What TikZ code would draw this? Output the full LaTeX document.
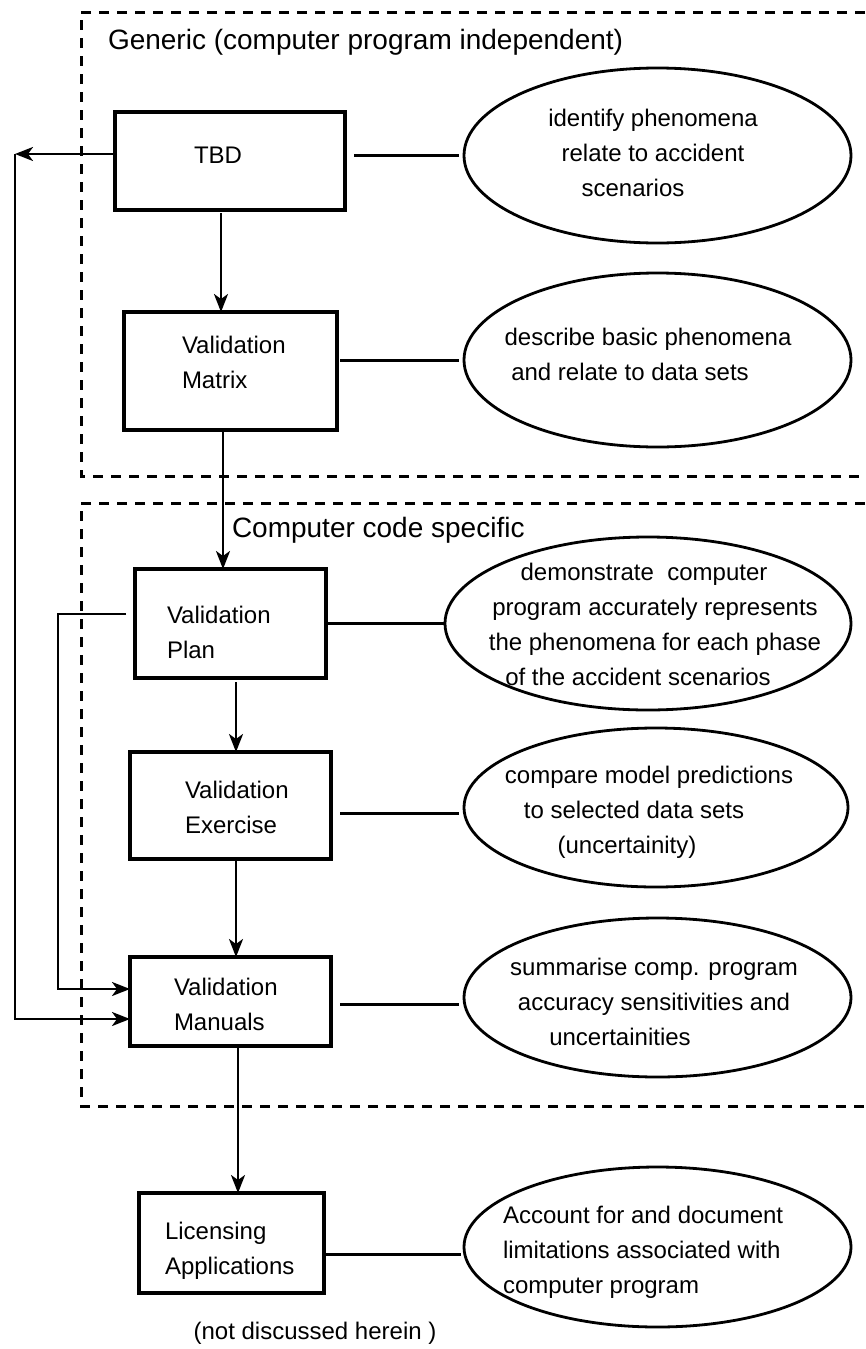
\documentclass[tikz,border=0pt]{standalone}
\usepackage{fontspec}
\setmainfont{Liberation Sans}
\usetikzlibrary{arrows.meta,shapes.geometric,calc}
\begin{document}
\begin{tikzpicture}[x=1pt,y=-1pt,
  every node/.style={inner sep=0pt, outer sep=0pt},
  txt/.style={font=\fontsize{24}{35}\selectfont},
  head/.style={font=\fontsize{28}{34}\selectfont, anchor=west},
  stepbox/.style={draw, rectangle, line width=3.2pt},
  bubble/.style={draw, ellipse, line width=2.8pt},
  zone/.style={line width=3pt, dash pattern=on 10pt off 8pt},
  link/.style={line width=3pt},
  flow/.style={line width=2.6pt, -{Stealth[length=18pt,width=14pt,inset=5pt]}},
]
\useasboundingbox (0,0) rectangle (865,1349);

% dashed zones (open to the right)
\draw[zone] (865,12) -- (81,12) -- (81,476) -- (865,476);
\draw[zone] (865,503) -- (81,503) -- (81,1106) -- (865,1106);

\node[head] (generic) at (108,42) {Generic (computer program independent)};
\node[head] (specific) at (232,530) {Computer code specific};

% process boxes
\node[stepbox, minimum width=230pt, minimum height=98pt]  (tbd)   at (230,161) {};
\node[stepbox, minimum width=213pt, minimum height=118pt] (vmat)  at (230.5,371) {};
\node[stepbox, minimum width=191pt, minimum height=109pt] (vplan) at (230.5,623.5) {};
\node[stepbox, minimum width=201pt, minimum height=107pt] (vexe)  at (230.5,805.5) {};
\node[stepbox, minimum width=201pt, minimum height=89pt]  (vman)  at (230.5,1001.5) {};
\node[stepbox, minimum width=185pt, minimum height=100pt] (lic)   at (231.5,1243) {};

\node[txt] (tbdtxt) at (218,155) {TBD};
\node[txt, anchor=west, align=left] (vmattxt)  at (182,362.5)  {Validation\\Matrix};
\node[txt, anchor=west, align=left] (vplantxt) at (167,632.5)  {Validation\\Plan};
\node[txt, anchor=west, align=left] (vexetxt)  at (185,807.5)  {Validation\\Exercise};
\node[txt, anchor=west, align=left] (vmantxt)  at (174,1004.5) {Validation\\Manuals};
\node[txt, anchor=west, align=left] (lictxt)   at (165,1250.5) {Licensing\\Applications};

\node[txt] (note) at (315,1333) {(not discussed herein )};

% description ellipses
\node[bubble, minimum width=387pt, minimum height=175pt] (e1) at (657.5,155.5) {};
\node[bubble, minimum width=387pt, minimum height=174pt] (e2) at (657.5,360) {};
\node[bubble, minimum width=406pt, minimum height=173pt] (e3) at (648,623.5) {};
\node[bubble, minimum width=384pt, minimum height=159pt] (e4) at (656,807.5) {};
\node[bubble, minimum width=387pt, minimum height=159pt] (e5) at (657.5,997.5) {};
\node[bubble, minimum width=387pt, minimum height=160pt] (e6) at (657.5,1247) {};

\node[txt, align=center] (e1txt) at (653,153)
  {identify phenomena\\relate to accident\\scenarios\kern40pt};
\node[txt, align=center] (e2txt) at (648,354.5)
  {describe basic phenomena\\and relate to data sets\kern36pt};
\node[txt, align=center] (e3txt) at (655,624)
  {demonstrate\ \ computer\kern22pt\\program accurately represents\\the phenomena for each phase\\of the accident scenarios\kern34pt};
\node[txt, align=center] (e4txt) at (649,812)
  {compare model predictions\\to selected data sets\kern30pt\\(uncertainity)\kern44pt};
\node[txt, align=center] (e5txt) at (654,1002)
  {summarise comp. program\\accuracy sensitivities and\\uncertainities\kern68pt};
\node[txt, anchor=west, align=left] (e6txt) at (503,1252)
  {Account for and document\\limitations associated with\\computer program};

% box-to-ellipse links
\draw[link] ($(tbd.east |- e1.west)+(9,0)$) -- ($(e1.west)+(-5,0)$);
\draw[link] ($(vmat.east |- e2.west)+(3,0)$) -- ($(e2.west)+(-5,0)$);
\draw[link] (vplan.east |- e3.west) -- (e3.west);
\draw[link] ($(vexe.east |- e4.west)+(9,5.5)$) -- ($(e4.west)+(-5,5.5)$);
\draw[link] ($(vman.east |- e5.west)+(9,6.5)$) -- ($(e5.west)+(-5,6.5)$);
\draw[link] ($(lic.east |- e6.west)+(0,7)$) -- ($(e6.west)+(-3,7)$);

% main flow
\draw[flow] ($(tbd.south)+(-9,3)$) -- ($(tbd.south |- vmat.north)+(-9,0)$);
\draw[flow] ($(vmat.south)+(-7.5,0)$) -- ($(vmat.south |- vplan.north)+(-7.5,0)$);
\draw[flow] ($(vplan.south)+(5.5,4)$) -- ($(vplan.south |- vexe.north)+(5.5,0)$);
\draw[flow] ($(vexe.south)+(5.5,0)$) -- ($(vexe.south |- vman.north)+(5.5,0)$);
\draw[flow] ($(vman.south)+(7.5,0)$) -- ($(vman.south |- lic.north)+(7.5,0)$);

% feedback paths into the manuals
\coordinate (fbtop) at (15,154);
\coordinate (fbmid) at (58,614);
\draw[flow] ($(tbd.west)+(2,-7)$) -- (fbtop);
\draw[flow] (fbtop) |- ($(vman.west)+(0,17.5)$);
\draw[flow] ($(vplan.west)+(-9,-9.5)$) -- (fbmid) |- ($(vman.west)+(0,-12.5)$);
\end{tikzpicture}
\end{document}
